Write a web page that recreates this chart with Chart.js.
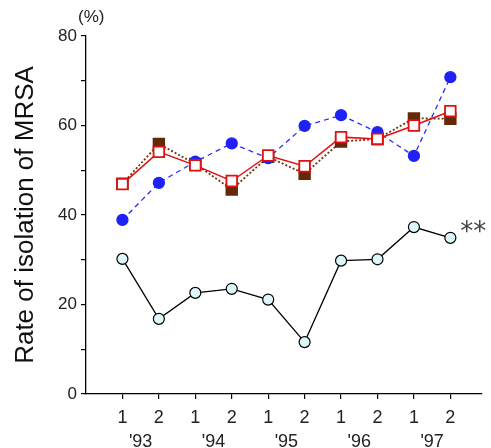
<!DOCTYPE html>
<html lang="en">
<head>
  <meta charset="UTF-8">
  <title>Rate of isolation of MRSA</title>
  <script src="https://cdn.jsdelivr.net/npm/chart.js"></script>
  <style>
    body { margin: 0; background: #fff; }
    #chart { display: block; }
  </style>
</head>
<body>
  <canvas id="chart" width="491" height="448"></canvas>

  <script>
    // half-year periods, 1993-1997
    const halves = ['1', '2', '1', '2', '1', '2', '1', '2', '1', '2'];
    const years = ["'93", "'94", "'95", "'96", "'97"];
    const yTicks = [0, 20, 40, 60, 80];

    // series values (%)
    const redSquares = [46.9, 54.1, 51.1, 47.6, 53.3, 50.9, 57.4, 57.0, 60.0, 63.2];
    const blueCircles = [38.9, 47.2, 51.9, 56.0, 52.7, 59.9, 62.3, 58.5, 53.2, 70.8];
    const brownSquares = [47.0, 55.9, 51.4, 45.7, 53.0, 49.2, 56.4, 57.0, 61.6, 61.5];
    const openCircles = [30.2, 16.8, 22.6, 23.5, 21.1, 11.6, 29.8, 30.1, 37.3, 34.9];

    const pts = arr => arr.map((v, i) => ({ x: i + 1, y: v }));
    const font = 'Liberation Sans, Arial, sans-serif';

    // extra text: "(%)" above the axis and "**" after the last point
    const notes = {
      id: 'notes',
      afterDraw(chart) {
        const ctx = chart.ctx;
        const xs = chart.scales.x, ys = chart.scales.y;
        ctx.save();
        ctx.fillStyle = '#222';
        ctx.font = '17px ' + font;
        ctx.textAlign = 'left';
        ctx.textBaseline = 'middle';
        ctx.fillText('(%)', 78, 17);
        ctx.font = '26px DejaVu Sans, sans-serif';
        ctx.fillStyle = '#444';
        ctx.textBaseline = 'alphabetic';
        const last = openCircles.length - 1;
        ctx.fillText('**', xs.getPixelForValue(last + 1) + 10, ys.getPixelForValue(openCircles[last]) + 2);
        ctx.restore();
      }
    };

    new Chart(document.getElementById('chart'), {
      type: 'line',
      data: {
        datasets: [
          {
            data: pts(redSquares),
            borderColor: '#e01010',
            borderWidth: 1.5,
            pointStyle: 'rect',
            pointRadius: 7.5,
            pointBackgroundColor: '#fff',
            pointBorderColor: '#e01010',
            pointBorderWidth: 1.8,
            order: 1
          },
          {
            data: pts(blueCircles),
            borderColor: '#2a2cf5',
            borderWidth: 1.3,
            borderDash: [5, 4],
            pointRadius: 5.5,
            pointBackgroundColor: '#1f22f7',
            pointBorderColor: '#1f22f7',
            order: 2
          },
          {
            data: pts(brownSquares),
            borderColor: '#6e3410',
            borderWidth: 1.8,
            borderDash: [2, 2],
            pointStyle: 'rect',
            pointRadius: 7.5,
            pointBackgroundColor: '#64280a',
            pointBorderColor: '#64280a',
            order: 3
          },
          {
            data: pts(openCircles),
            borderColor: '#000',
            borderWidth: 1.3,
            pointRadius: 5.5,
            pointBackgroundColor: '#dcf6fa',
            pointBorderColor: '#000',
            pointBorderWidth: 1.2,
            order: 4
          }
        ]
      },
      options: {
        responsive: false,
        animation: false,
        layout: { padding: { top: 36, right: 0, left: 0, bottom: 0 } },
        plugins: { legend: { display: false }, tooltip: { enabled: false } },
        scales: {
          x: {
            type: 'linear',
            position: 'bottom',
            min: 0,
            max: 10.86,
            afterBuildTicks: s => { s.ticks = halves.map((h, i) => ({ value: i + 1 })); },
            afterFit: s => { s.height = 29; },
            ticks: {
              callback: (v, i) => halves[i],
              color: '#222',
              font: { family: font, size: 18 },
              padding: 8,
              maxRotation: 0
            },
            grid: { drawOnChartArea: false, drawTicks: true, tickLength: 5, color: '#000', lineWidth: 1.2 },
            border: { color: '#000', width: 1.3 }
          },
          yr: {
            type: 'linear',
            position: 'bottom',
            min: 0,
            max: 10.86,
            afterBuildTicks: s => { s.ticks = years.map((y, i) => ({ value: 2 * i + 1.5 })); },
            afterFit: s => { s.height = 25; },
            ticks: {
              callback: (v, i) => years[i],
              color: '#222',
              font: { family: font, size: 18 },
              padding: 0,
              maxRotation: 0
            },
            grid: { display: false },
            border: { display: false }
          },
          y: {
            min: 0,
            max: 80,
            afterBuildTicks: s => {
              const t = [];
              for (let v = 0; v <= 80; v += 5) t.push({ value: v });
              s.ticks = t;
            },
            afterFit: s => { s.width = 86; },
            ticks: {
              callback: v => (yTicks.includes(v) ? String(v) : ''),
              color: '#222',
              font: { family: font, size: 17 },
              padding: 4
            },
            grid: { drawOnChartArea: false, drawTicks: true, tickLength: 5, color: '#000', lineWidth: 1.2 },
            border: { color: '#000', width: 1.3 },
            title: {
              display: true,
              text: 'Rate of isolation of MRSA',
              color: '#111',
              font: { family: font, size: 26 },
              padding: { top: 10, bottom: 0 }
            }
          }
        }
      },
      plugins: [notes]
    });
  </script>
</body>
</html>
